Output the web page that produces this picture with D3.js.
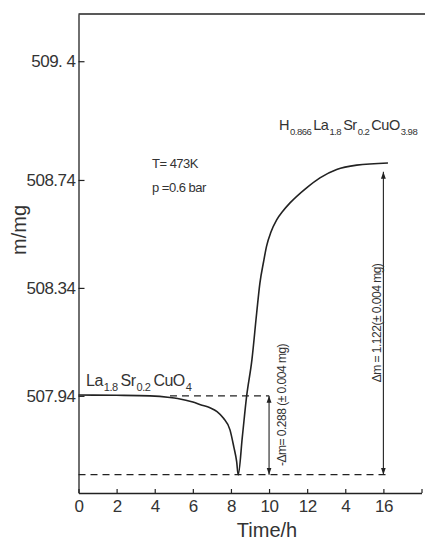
<!DOCTYPE html>
<html>
<head>
<meta charset="utf-8">
<script src="https://cdn.jsdelivr.net/npm/d3@7"></script>
<style>
  body { margin: 0; background: #fff; }
  text { fill: #333; }
  .narrow { font-family: "Liberation Sans", Arial, sans-serif; letter-spacing: -0.5px; }
</style>
</head>
<body>
<script>
const width = 425;
const height = 541;

// curve: time in h, mass in mg
const timeH = [0, 2, 3.75, 4.8, 5.2, 6.0, 6.4, 6.9, 7.27, 7.6, 7.95, 8.15, 8.3, 8.38, 8.6, 8.82, 9.1, 9.35, 9.52, 9.71, 9.87, 10.1, 10.4, 10.73, 11.1, 11.97, 12.67, 13.55, 14.6, 16.24];
const mass = [507.943, 507.942, 507.94, 507.934, 507.93, 507.917, 507.907, 507.896, 507.882, 507.858, 507.814, 507.751, 507.696, 507.647, 507.79, 507.937, 508.073, 508.247, 508.358, 508.436, 508.495, 508.547, 508.592, 508.625, 508.655, 508.711, 508.748, 508.779, 508.795, 508.803];

const xTicks = [0, 2, 4, 6, 8, 10, 12, 14, 16, 18];
const xTickLabels = ["0", "2", "4", "6", "8", "10", "12", "4", "16", ""];
const yTicks = [507.94, 508.34, 508.74, 509.18];
const yTickLabels = ["507.94", "508.34", "508.74", "509. 4"];

const mStart = 507.94;   // initial plateau
const mMin = 507.648;    // minimum after reduction
const mEnd = 508.77;     // final plateau
const tSmall = 10;       // position of the -dm arrow
const tBig = 16;         // position of the dm arrow

const svg = d3.select("body").append("svg")
    .attr("width", width)
    .attr("height", height);

const x = d3.scaleLinear().domain([0, 18]).range([78.5, 421.5]);
const y = d3.scaleLinear().domain([507.58, 509.355]).range([493, 14]);

const ink = "#222";

// frame top line
svg.append("line")
    .attr("x1", x(0)).attr("x2", width)
    .attr("y1", y.range()[1]).attr("y2", y.range()[1])
    .attr("stroke", ink).attr("stroke-width", 1.3);

const yAxis = svg.append("g")
    .attr("transform", `translate(${x(0)},0)`)
    .call(d3.axisLeft(y)
        .tickValues(yTicks)
        .tickFormat((d, i) => yTickLabels[i])
        .tickSizeInner(-6)
        .tickSizeOuter(0)
        .tickPadding(3));

const xAxis = svg.append("g")
    .attr("transform", `translate(0,${y.range()[0]})`)
    .call(d3.axisBottom(x)
        .tickValues(xTicks)
        .tickFormat((d, i) => xTickLabels[i])
        .tickSizeInner(-4)
        .tickSizeOuter(0)
        .tickPadding(7));

[yAxis, xAxis].forEach(g => {
    g.select(".domain").attr("stroke", ink).attr("stroke-width", 1.3);
    g.selectAll(".tick line").attr("stroke", ink).attr("stroke-width", 1.2);
    g.selectAll(".tick text")
        .attr("class", "narrow")
        .attr("font-size", 17)
        .attr("fill", "#333");
});

// dashed reference lines
svg.append("line")
    .attr("x1", x(4.8)).attr("x2", x(tSmall))
    .attr("y1", y(mStart)).attr("y2", y(mStart))
    .attr("stroke", ink).attr("stroke-width", 1.1)
    .attr("stroke-dasharray", "7,5");
svg.append("line")
    .attr("x1", x(0)).attr("x2", x(tBig) + 4)
    .attr("y1", y(mMin)).attr("y2", y(mMin))
    .attr("stroke", ink).attr("stroke-width", 1.1)
    .attr("stroke-dasharray", "7,5");

// curve
const line = d3.line()
    .x((d, i) => x(timeH[i]))
    .y(d => y(d))
    .curve(d3.curveMonotoneX);

svg.append("path")
    .datum(mass)
    .attr("d", line)
    .attr("fill", "none")
    .attr("stroke", ink)
    .attr("stroke-width", 1.6);

// arrow heads
const defs = svg.append("defs");
defs.append("marker")
    .attr("id", "head")
    .attr("viewBox", "0 0 10 10")
    .attr("refX", 10).attr("refY", 5)
    .attr("markerWidth", 7).attr("markerHeight", 7)
    .attr("markerUnits", "userSpaceOnUse")
    .attr("orient", "auto-start-reverse")
    .append("path")
    .attr("d", "M0,1.5L10,5L0,8.5Z")
    .attr("fill", ink);

function dArrow(t, m1, m2) {
    svg.append("line")
        .attr("x1", x(t)).attr("x2", x(t))
        .attr("y1", y(m1)).attr("y2", y(m2))
        .attr("stroke", ink).attr("stroke-width", 1.1)
        .attr("marker-start", "url(#head)")
        .attr("marker-end", "url(#head)");
}
dArrow(tSmall, mStart, mMin);
dArrow(tBig, mEnd, mMin);

function vLabel(px, py, txt) {
    svg.append("text")
        .attr("class", "narrow")
        .attr("transform", `translate(${px},${py}) rotate(-90)`)
        .attr("text-anchor", "middle")
        .attr("font-size", 12)
        .text(txt);
}
vLabel(x(tSmall) + 17, 405, "-\u0394m= 0.288 (\u00b1 0.004 mg)");
vLabel(x(tBig) - 2, 323, "\u0394m = 1.122(\u00b1 0.004 mg)");

// formula labels with subscripts
function formula(px, py, parts, size, sub, gap) {
    const t = svg.append("text")
        .attr("class", "narrow")
        .attr("x", px).attr("y", py)
        .attr("font-size", size);
    parts.forEach((p, i) => {
        t.append("tspan").attr("font-size", size)
            .attr("dx", i ? gap : 0)
            .attr("dy", i ? -size * 0.33 : 0)
            .text(p[0]);
        t.append("tspan").attr("font-size", sub)
            .attr("dx", 1)
            .attr("dy", size * 0.33)
            .text(p[1]);
    });
}
formula(86, 386, [["La", "1.8"], ["Sr", "0.2"], ["CuO", "4"]], 16, 11, 3);
formula(279, 130, [["H", "0.866"], ["La", "1.8"], ["Sr", "0.2"], ["CuO", "3.98"]], 14.5, 9.5, 2);

svg.append("text").attr("class", "narrow")
    .attr("x", 152).attr("y", 168).attr("font-size", 13)
    .text("T= 473K");
svg.append("text").attr("class", "narrow")
    .attr("x", 152).attr("y", 192).attr("font-size", 13)
    .text("p  =0.6 bar");

// axis titles
svg.append("text")
    .attr("x", 267).attr("y", 537)
    .attr("text-anchor", "middle")
    .attr("font-family", "Liberation Sans, Arial, sans-serif")
    .attr("font-size", 20)
    .text("Time/h");
svg.append("text")
    .attr("transform", "translate(26,230) rotate(-90)")
    .attr("text-anchor", "middle")
    .attr("font-family", "Liberation Sans, Arial, sans-serif")
    .attr("font-size", 20)
    .text("m/mg");
</script>
</body>
</html>
